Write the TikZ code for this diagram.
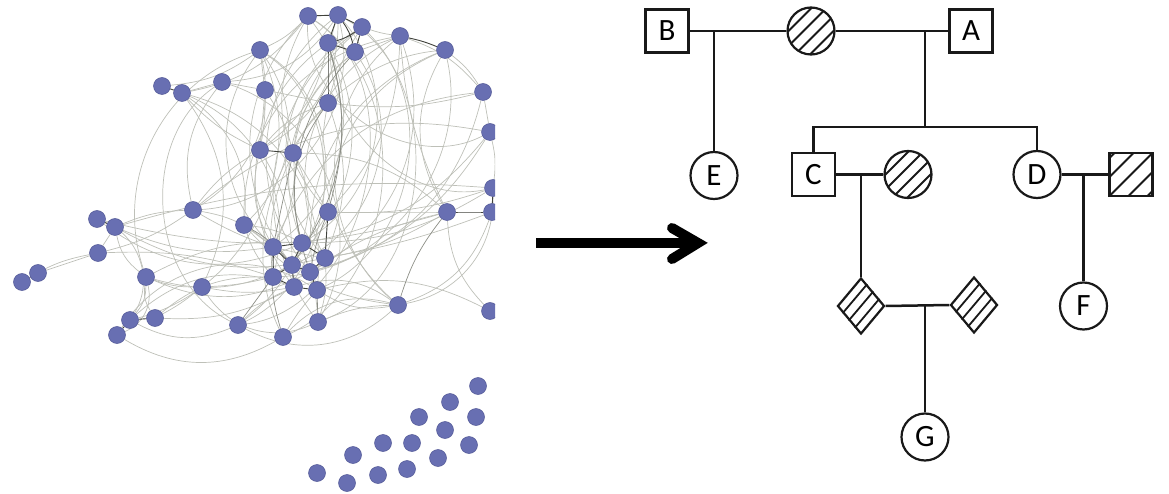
\documentclass[tikz,border=0pt]{standalone}
\usepackage{fontspec}
\newfontfamily\labelfont{Carlito}
\usetikzlibrary{calc,shapes.geometric,backgrounds}
\definecolor{nodeblue}{RGB}{104,111,178}
\definecolor{nodeedge}{RGB}{82,88,150}
\definecolor{linkgray}{RGB}{190,192,184}
\definecolor{linkmid}{RGB}{140,142,134}
\definecolor{linkdark}{RGB}{64,66,60}
\definecolor{ink}{RGB}{25,25,25}

\begin{document}
\begin{tikzpicture}[x=1pt,y=-1pt,
  vertex/.style={circle,fill=nodeblue,draw=nodeedge,line width=0.5pt,minimum size=17pt,inner sep=0pt},
  link/.style={draw=linkgray,line width=0.7pt},
  midlink/.style={draw=linkmid,line width=0.7pt},
  darklink/.style={draw=linkdark,line width=0.9pt},
  person/.style={draw=ink,line width=2.2pt,inner sep=0pt,
    font=\labelfont\fontsize{31}{31}\selectfont},
  male/.style={person,rectangle,minimum size=43pt},
  female/.style={person,circle,minimum size=47pt},
  unknown/.style={person,diamond,minimum width=47pt,minimum height=56pt},
  hatchround/.style={path picture={
    \foreach \o in {-22.5,-7.5,7.5,22.5}
      \draw[ink,line width=1.8pt] ($(path picture bounding box.center)+(\o,0)+(-35,35)$) -- ++(70,-70);}},
  hatchsquare/.style={path picture={
    \foreach \o in {-38,-19,0,19,38}
      \draw[ink,line width=1.8pt] ($(path picture bounding box.center)+(\o,0)+(-45,45)$) -- ++(90,-90);}},
  tie/.style={draw=ink,line width=2.5pt},
  bigarrow/.style={draw=black,line width=10pt},
]
\useasboundingbox (0,0) rectangle (1169,494);

% ---------------- network ----------------
\begin{scope}
  \clip (0,0) rectangle (495,494);
  \foreach \n/\x/\y in {t1/308/16, t2/338/15, t3/362/27, t4/328/43, t5/355/52,
      t6/400/36, t7/445/50, t8/260/50, p1/162/86, p2/182/93, m1/222/82,
      m2/265/90, m3/328/103, r1/483/92, r2/490/132, c1/260/150, c2/293/153,
      l1/193/210, m4/328/212, r3/447/212, r4/493/188, r5/492/212, w1/97/219,
      w2/115/227, k1/244/225, w3/98/253, w4/38/273, w5/22/282, w6/146/277,
      l2/202/287, h1/273/247, h2/302/243, h3/325/258, h4/292/265, h5/273/277,
      h6/310/272, h7/294/287, h8/317/290, b1/130/320, b2/155/318, b3/117/335,
      b4/238/325, b5/283/337, b6/318/322, b7/398/305, b8/490/311}
    \node[vertex] (\n) at (\x,\y) {};
  % detached group, no links
  \foreach \i/\x/\y in {1/478/386, 2/450/402, 3/476/417, 4/419/417, 5/445/430,
      6/469/445, 7/383/443, 8/412/443, 9/438/458, 10/353/455, 11/407/469,
      12/378/475, 13/317/473, 14/347/483}
    \node[vertex] (iso\i) at (\x,\y) {};
\end{scope}

\begin{scope}[on background layer]
  \clip (0,0) rectangle (495,494);
  \foreach \a/\b/\t in {t1/h1/45, t1/h4/-40, t2/h2/50, t2/h6/-45, t3/h3/-50,
      t3/h8/55, t4/h5/40, t4/h7/-45, t5/h2/-35, t5/h4/50, t6/h3/-45, t6/h6/40,
      t7/h8/-40, t8/h1/-40, t8/h5/55, t1/m4/-35, t2/c1/30, t3/c2/-20, t8/k1/40,
      t1/b5/60, t7/b5/-55, t2/l1/50, t3/b6/-45, t6/m4/20, t8/l1/35, t1/b4/70,
      t6/b7/-50, t7/r3/-30, t2/r4/-60, p2/t1/-20, m1/t2/-25, p1/t8/-15,
      h1/w2/15, h5/w3/-10, h4/w6/20, h7/l2/10, h1/l1/-15, h2/w1/30, h5/b2/-20,
      h7/b1/-30, h8/b3/-45, h6/w6/25, h3/w2/20, h5/l2/5, h4/b4/10, h7/b4/-10,
      h8/b5/-5, h6/b6/5, h3/b6/10, h1/k1/0, h2/k1/-10, h5/k1/10,
      h3/r3/-10, h6/r3/10, h2/r4/-15, h8/b7/-20, h3/r5/-5, h7/b7/25, h6/r1/-30,
      h2/r2/-20, m4/r3/0, m4/r4/-10, b6/b7/10, b5/b7/30, b7/r5/-25, b7/r4/-40,
      b8/r3/20, b8/h8/-20, w2/w3/0, w3/w4/0, w2/w6/-20, w6/b1/20, w6/b2/-20,
      w6/b3/40, w1/b1/50, w3/l1/-10, w2/l1/10, w6/l2/-10, b2/l2/-5, b3/b5/-30,
      b1/b4/-25, b2/h7/-15, w5/w3/10, c1/m2/0, m2/m3/0, m2/m1/0, m1/p2/0,
      p2/c1/-10, c1/h1/-20, c2/h2/20, c2/m3/10, m3/h3/20, c1/h4/15,
      c2/h5/-15, m2/h1/30, m1/l1/-25, p2/h5/40, p2/k1/30, m4/h2/10, c1/l1/-10,
      c2/m4/0, t5/t6/0, t7/r1/10, r1/r2/0, r2/r4/10, t6/r1/15, t3/t6/-5,
      t8/t1/-10, t1/r2/-60, t8/b4/60, m1/b6/50, p2/h8/40, t7/h5/50, t6/k1/-40,
      r1/h1/-30, r2/l1/-25, r3/w1/15, r4/w2/-10, r1/m3/10, r3/c2/-20,
      t7/m4/-30, l1/h3/-10, l2/b6/-40, b4/b7/-35, k1/b7/-20, w6/h2/15,
      t8/m2/0, m2/c1/5, t4/c1/20, t5/c2/-20, m3/c1/-15, r2/h6/20, t6/r3/-10,
      t8/b1/50, t8/w6/-45, m1/b4/-60, p2/l2/30, t2/b6/65, t3/b7/-40}
    \draw[link] (\a) to[bend left=\t] (\b);
  \foreach \a/\b/\t in {t4/h4/25, t5/h6/-30, m3/h2/-25, h1/b5/-10, h8/b6/0,
      h5/b4/0, t4/m4/15, c2/h1/0, k1/h4/10, m4/h6/-5, b7/r3/10}
    \draw[midlink] (\a) to[bend left=\t] (\b);
  \foreach \a/\b/\t in {t1/t2/0, t2/t3/0, t3/t4/10, t4/t5/0, t5/t3/0, t2/t4/0,
      t2/t5/10, t6/t7/5, c1/c2/0, w1/w2/0, w4/w5/0, p1/p2/0, b1/b2/0, b1/b3/0,
      r3/r5/0, m4/h3/0, h1/h4/0, h2/h4/0, h4/h6/0, h5/h7/0, h6/h8/0, h3/h6/0,
      h1/h5/0, h2/h3/0, h4/h7/0, h7/h8/0, t4/m3/0, r4/r5/0, h1/h2/0, h4/h5/0}
    \draw[darklink] (\a) to[bend left=\t] (\b);
\end{scope}

% ---------------- arrow ----------------
\coordinate (arrowtail) at (536,243);
\coordinate (arrowtip) at (698,243);
\draw[bigarrow] (arrowtail) -- (arrowtip);
\draw[bigarrow,line cap=round,line join=miter]
  ($(arrowtip)+(-26,-15)$) -- (arrowtip) -- ($(arrowtip)+(-26,16)$);

% ---------------- pedigree ----------------
\node[male] (B) at (667,31) {B};
\node[female,hatchround] (W1) at (811,31) {};
\node[male] (A) at (971,31) {A};
\node[female] (E) at (714,175.5) {E};
\node[male] (C) at (813.5,174.5) {C};
\node[female,hatchround] (W2) at (908,174.5) {};
\node[female] (D) at (1037,174.5) {D};
\node[male,hatchsquare] (H) at (1131,174.5) {};
\node[unknown] (UL) at (861,306) {};
\node[unknown] (UR) at (974,305) {};
\node[female] (F) at (1083.5,306) {F};
\node[female] (G) at (925,437) {G};

% stripes on the two diamonds, parallel to their upper-left sides
\foreach \u in {UL,UR}
  \foreach \f in {0.25,0.5,0.75}
    \draw[ink,line width=1.8pt] ($(\u.west)!\f!(\u.south)$) -- ($(\u.north)!\f!(\u.east)$);

\coordinate (sib) at (925,127);
\draw[tie] (B) -- (W1);
\draw[tie] (W1) -- (A);
\draw[tie] (E.north) -- (E.north |- B.east);
\draw[tie] (sib) -- (sib |- A.west);
\draw[tie] (C.north) |- (sib) -| (D.north);
\draw[tie] (C) -- (W2);
\draw[tie] (D) -- (H);
\draw[tie] (UL.north) -- (UL.north |- C.east);
\draw[tie] (F.north) -- (F.north |- D.east);
\draw[tie] (UL.east) -- (UR.west);
\draw[tie] (G.north) -- (G.north |- UL.east);
\end{tikzpicture}
\end{document}
